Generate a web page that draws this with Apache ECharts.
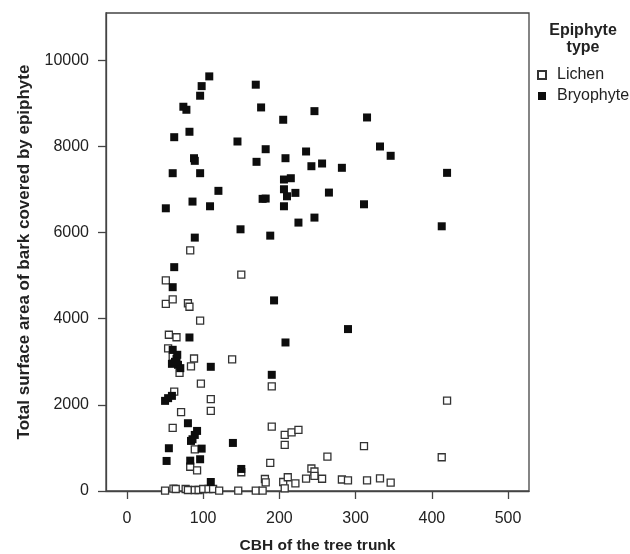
<!DOCTYPE html>
<html>
<head>
<meta charset="utf-8">
<script src="https://cdn.jsdelivr.net/npm/echarts@6/dist/echarts.min.js"></script>
<style>
html, body { margin: 0; padding: 0; background: #fff; }
#chart { width: 630px; height: 554px; }
</style>
</head>
<body>
<div id="chart"></div>
<script>
// values
var lichenCbh = [83,150,51,51,60,80,82,96,55,65,54,88,84,138,69,60,97,62,110,110,71,60,89,83,92,190,190,207,216,225,207,188,150,181,182,205,211,207,221,235,242,246,246,256,263,282,290,311,315,332,346,413,420,
	50,61,64,77,80,89,94,100,107,113,121,146,169,178];
var lichenArea = [5588,5023,4891,4344,4449,4360,4279,3958,3628,3570,3314,3077,2895,3058,2744,3120,2493,2309,2133,1860,1833,1465,965,563,481,2430,1495,1302,1360,1419,1070,651,435,279,202,209,319,63,179,286,523,453,353,284,798,267,249,1040,249,295,193,784,2100,
	7,53,47,47,23,23,23,47,47,47,7,7,7,7];

var bryoCbh = [51,60,62,74,78,82,88,89,86,96,96,98,108,109,120,89,145,149,169,176,170,182,178,182,188,205,208,206,215,206,210,221,206,225,235,242,246,246,256,315,282,332,346,420,265,311,413,290,
	62,60,193,82,208,110,190,
	60,66,65,59,67,70,63,
	50,54,59,80,92,89,86,84,55,98,139,52,83,96,150,110];
var bryoArea = [6565,7380,8216,8923,8853,8342,7728,7667,6721,7380,9179,9402,9628,6612,6970,5884,8116,6077,9435,8907,7644,7937,6784,6791,5930,8621,7728,7233,7263,7007,6844,6923,6612,6233,7884,7542,8821,6349,7605,8674,7505,8000,7784,7388,6930,6658,6147,3760,
	5198,4733,4426,3565,3449,2884,2698,
	3279,3163,3070,2953,2930,2853,3000,
	2093,2156,2209,1574,1395,1302,1202,1163,993,984,1116,698,705,737,512,209];

var xTicks = [0,100,200,300,400,500];
var seriesNames = ['Lichen','Bryophyte'];

function pairs(xs, ys) {
	var out = [];
	for (var i = 0; i < xs.length; i++) out.push([xs[i], ys[i]]);
	return out;
}

var myChart = echarts.init(document.getElementById('chart'));
var txt = '#222';
var line = '#444';
var font = 'Liberation Sans, Arial, sans-serif';

option = {
	backgroundColor: '#fff',
	animation: false,
	textStyle: { fontFamily: font },
	title: {
		text: 'Epiphyte\ntype',
		left: 578,
		top: 17,
		textAlign: 'center',
		textStyle: { fontSize: 16, fontWeight: 'bold', color: txt, lineHeight: 17, fontFamily: font }
	},
	legend: {
		data: seriesNames,
		orient: 'vertical',
		left: 532,
		top: 62,
		itemWidth: 8,
		itemHeight: 8,
		itemGap: 5,
		textStyle: { fontSize: 16, color: txt, fontFamily: font, padding: [0, 0, 0, 6] }
	},
	grid: {
		left: 106,
		top: 13,
		right: 101,
		bottom: 63,
		outerBoundsMode: 'none',
		containLabel: false,
		show: true,
		borderColor: line,
		borderWidth: 1.3,
		backgroundColor: 'transparent'
	},
	xAxis: {
		type: 'value',
		min: -27.5,
		max: 527.5,
		name: 'CBH of the tree trunk',
		nameLocation: 'middle',
		nameGap: 47,
		nameTextStyle: { fontSize: 15.5, fontWeight: 'bold', color: txt, fontFamily: font },
		splitLine: { show: false },
		axisLine: { show: true, lineStyle: { color: line, width: 1.3 } },
		axisTick: { show: true, length: 8, customValues: xTicks, lineStyle: { color: line, width: 1.3 } },
		axisLabel: { customValues: xTicks, margin: 20, fontSize: 16, color: txt, fontFamily: font }
	},
	yAxis: {
		type: 'value',
		min: 0,
		max: 11100,
		interval: 2000,
		name: 'Total surface area of bark covered by epiphyte',
		nameLocation: 'middle',
		nameGap: 73,
		nameTextStyle: { fontSize: 17, fontWeight: 'bold', color: txt, fontFamily: font },
		splitLine: { show: false },
		axisLine: { show: true, onZero: false, lineStyle: { color: line, width: 1.3 } },
		axisTick: { show: true, length: 8, lineStyle: { color: line, width: 1.3 } },
		axisLabel: {
			margin: 17, fontSize: 16, color: txt, fontFamily: font, showMaxLabel: false,
			formatter: function (v) { return String(v); }
		}
	},
	series: [{
		name: seriesNames[0],
		type: 'scatter',
		symbol: 'rect',
		symbolSize: 7,
		clip: false,
		itemStyle: { color: '#fff', borderColor: '#333', borderWidth: 1.3, opacity: 1 },
		data: pairs(lichenCbh, lichenArea)
	}, {
		name: seriesNames[1],
		type: 'scatter',
		symbol: 'rect',
		symbolSize: 8,
		clip: false,
		itemStyle: { color: '#0d0d0d', opacity: 1 },
		data: pairs(bryoCbh, bryoArea)
	}]
};
myChart.setOption(option);
</script>
</body>
</html>
